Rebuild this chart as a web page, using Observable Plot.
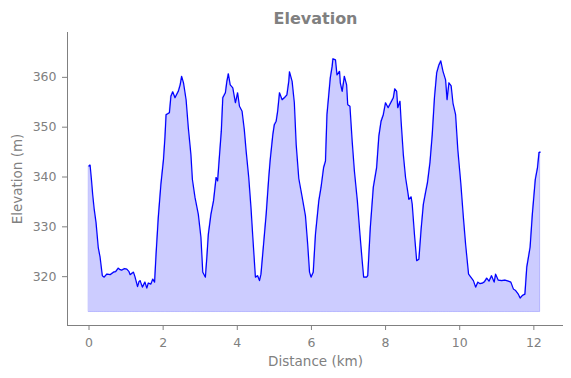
<!DOCTYPE html>
<html>
<head>
<meta charset="utf-8">
<script src="https://cdn.jsdelivr.net/npm/d3@7"></script>
<script src="https://cdn.jsdelivr.net/npm/@observablehq/plot@0.6"></script>
<style>
  html, body { margin: 0; padding: 0; background: #fff; }
  svg { display: block; }
</style>
</head>
<body>
<div id="chart"></div>
<script>
const distanceKm = [
  0.00, 0.03, 0.07, 0.10, 0.14, 0.19, 0.25, 0.30, 0.36, 0.41, 0.48, 0.57, 0.66, 0.72, 0.79, 0.84, 0.88, 0.95,
  1.02, 1.08, 1.11, 1.16, 1.20, 1.24, 1.31, 1.35, 1.38, 1.44, 1.51, 1.56, 1.60, 1.67, 1.72, 1.77, 1.81, 1.87, 1.94,
  2.01, 2.05, 2.08, 2.17, 2.21, 2.26, 2.32, 2.41, 2.46, 2.50, 2.55, 2.62, 2.68, 2.75, 2.79, 2.86, 2.95,
  3.02, 3.07, 3.14, 3.18, 3.22, 3.29, 3.36, 3.43, 3.47, 3.51, 3.57, 3.61, 3.68, 3.72, 3.76, 3.81, 3.88, 3.95,
  4.01, 4.06, 4.13, 4.19, 4.24, 4.31, 4.37, 4.42, 4.49, 4.55, 4.60, 4.64, 4.71, 4.78, 4.85, 4.89, 4.96,
  5.00, 5.05, 5.09, 5.14, 5.21, 5.27, 5.34, 5.39, 5.41, 5.48, 5.54, 5.59, 5.66, 5.75, 5.84, 5.90, 5.95, 5.99,
  6.05, 6.11, 6.20, 6.26, 6.33, 6.38, 6.42, 6.51, 6.56, 6.58, 6.65, 6.69, 6.76, 6.78, 6.83, 6.89, 6.95, 6.98,
  7.04, 7.10, 7.16, 7.24, 7.31, 7.37, 7.41, 7.49, 7.52, 7.59, 7.67, 7.76, 7.82, 7.88, 7.94,
  8.00, 8.07, 8.14, 8.21, 8.25, 8.30, 8.33, 8.39, 8.42, 8.48, 8.54, 8.59, 8.63, 8.69, 8.72, 8.78, 8.84, 8.90, 8.96,
  9.02, 9.08, 9.13, 9.20, 9.26, 9.32, 9.38, 9.44, 9.49, 9.55, 9.62, 9.66, 9.71, 9.77, 9.82, 9.89, 9.95,
  10.03, 10.10, 10.16, 10.24, 10.30, 10.37, 10.43, 10.49, 10.55, 10.61, 10.67, 10.73, 10.79, 10.86, 10.93, 10.97,
  11.04, 11.13, 11.22, 11.31, 11.38, 11.45, 11.51, 11.58, 11.63, 11.69, 11.76, 11.81, 11.90, 11.96,
  12.04, 12.10, 12.14, 12.17
];
const elevationM = [
  342.2, 342.4, 339.2, 336.5, 333.6, 330.9, 325.9, 323.9, 320.2, 319.9, 320.5, 320.4, 320.9, 321.0, 321.7, 321.4, 321.3, 321.6,
  321.5, 321.0, 320.4, 320.7, 320.9, 320.0, 318.0, 319.0, 319.2, 317.9, 318.9, 317.7, 318.7, 318.5, 319.5, 318.9, 324.5, 331.9, 338.5,
  343.5, 348.0, 352.5, 352.9, 356.2, 357.1, 355.9, 357.2, 358.5, 360.2, 358.9, 355.5, 349.9, 344.5, 339.5, 335.9, 332.5,
  327.9, 320.9, 319.9, 323.9, 328.5, 332.5, 335.2, 339.9, 339.2, 343.2, 349.2, 355.9, 356.9, 359.2, 360.7, 358.5, 357.9, 354.9,
  356.9, 354.2, 353.2, 349.5, 345.2, 339.9, 333.9, 327.9, 319.9, 320.2, 319.2, 320.5, 326.5, 332.5, 339.9, 343.5, 348.5,
  350.5, 351.2, 353.2, 356.9, 355.5, 355.9, 356.5, 359.2, 361.1, 359.2, 354.9, 346.5, 339.7, 336.0, 332.2, 326.5, 320.9, 319.9,
  320.9, 328.5, 335.2, 337.9, 341.9, 343.2, 352.5, 359.9, 362.2, 363.7, 363.5, 360.5, 361.2, 358.9, 357.2, 360.2, 358.5, 354.5,
  354.2, 347.2, 341.2, 335.2, 328.5, 323.2, 319.9, 319.9, 320.2, 329.9, 337.9, 341.9, 348.2, 351.2, 352.5,
  354.9, 353.9, 354.9, 355.9, 357.7, 357.2, 353.9, 355.2, 351.2, 344.5, 339.9, 337.5, 335.5, 336.0, 334.5, 328.5, 323.2, 323.5, 329.5,
  334.5, 336.9, 338.8, 343.0, 348.5, 355.9, 360.9, 362.5, 363.3, 361.2, 359.5, 355.5, 358.9, 358.3, 354.8, 352.5, 345.5,
  338.8, 331.9, 326.5, 320.5, 319.9, 319.2, 317.9, 318.9, 318.6, 318.7, 319.0, 319.7, 319.1, 320.2, 318.9, 320.5,
  319.3, 319.2, 319.3, 319.1, 318.9, 317.5, 317.2, 316.5, 315.7, 316.2, 316.5, 321.9, 325.9, 332.5,
  339.5, 341.9, 344.9, 345.0
];
const areaBase = 312.9;
const xTicks = [0, 2, 4, 6, 8, 10, 12];
const yTicks = [320, 330, 340, 350, 360];
const xDomain = [-0.58, 12.8];
const yDomain = [310.2, 369];
const titleText = "Elevation";
const xLabel = "Distance (km)";
const yLabel = "Elevation (m)";

const data = distanceKm.map((d, i) => ({distance: d, elevation: elevationM[i], base: areaBase}));

const gray = "#808080";
const font = "DejaVu Sans, sans-serif";

const chart = Plot.plot({
  width: 571,
  height: 378,
  marginTop: 32,
  marginBottom: 53,
  marginLeft: 67,
  marginRight: 8,
  style: {fontFamily: font, fontSize: "12.5px", color: gray, background: "#fff"},
  x: {domain: xDomain},
  y: {domain: yDomain},
  marks: [
    Plot.areaY(data, {x: "distance", y1: "base", y2: "elevation", fill: "#0000ff", fillOpacity: 0.2, stroke: "#0000ff", strokeOpacity: 0.2, strokeWidth: 1}),
    Plot.lineY(data, {x: "distance", y: "elevation", stroke: "#0000ff", strokeWidth: 1.2}),
    Plot.ruleX([xDomain[0]], {stroke: gray, strokeWidth: 1}),
    Plot.ruleY([yDomain[0]], {stroke: gray, strokeWidth: 1}),
    Plot.axisX({ticks: xTicks, tickSize: 5, tickPadding: 8, label: null, stroke: gray, fill: gray, fontSize: 12.5}),
    Plot.axisY({ticks: yTicks, tickSize: 5, tickPadding: 6, label: null, stroke: gray, fill: gray, fontSize: 12.5}),
    Plot.text([xLabel], {frameAnchor: "bottom", dy: 36, lineAnchor: "middle", textAnchor: "middle", fill: gray, fontSize: 13.5}),
    Plot.text([yLabel], {frameAnchor: "left", dx: -50, rotate: -90, lineAnchor: "middle", textAnchor: "middle", fill: gray, fontSize: 13.5}),
    Plot.text([titleText], {frameAnchor: "top", dy: -14, lineAnchor: "middle", textAnchor: "middle", fill: gray, fontSize: 16, fontWeight: "bold"})
  ]
});
document.getElementById("chart").append(chart);
</script>
</body>
</html>
